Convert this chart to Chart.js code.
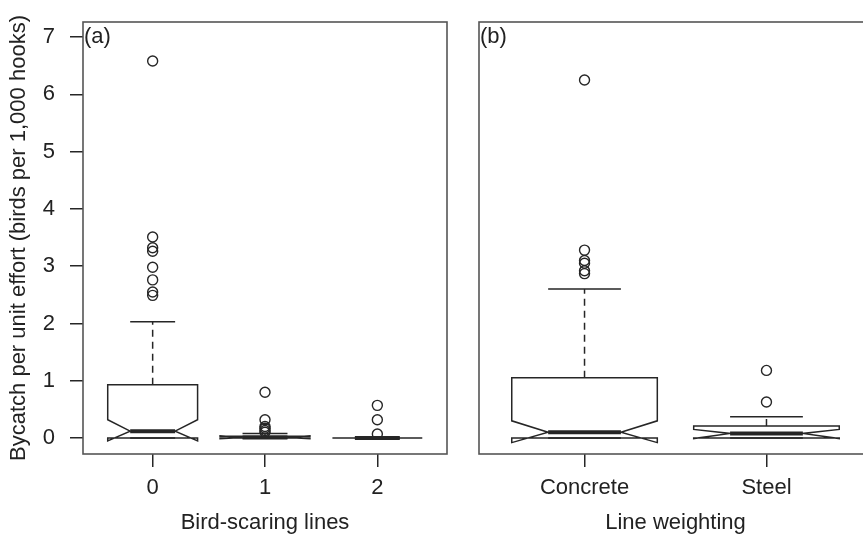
<!DOCTYPE html>
<html>
<head>
<meta charset="utf-8">
<script src="https://cdn.jsdelivr.net/npm/chart.js@4.4.1/dist/chart.umd.min.js"></script>
<style>
  html, body { margin: 0; padding: 0; background: #fff; overflow: hidden; }
  #wrap { position: relative; width: 863px; height: 536px; overflow: hidden; }
  #panelA { position: absolute; left: 0; top: 0; }
  #panelB { position: absolute; left: 460px; top: 0; }
</style>
</head>
<body>
<div id="wrap">
  <canvas id="panelA" width="460" height="536"></canvas>
  <canvas id="panelB" width="420" height="536"></canvas>
</div>
<script>
// Panel (a): bird-scaring lines
const scaringCats = ['0', '1', '2'];
const scaringQ1 = [0, 0, 0];
const scaringMedian = [0.12, 0.01, 0];
const scaringQ3 = [0.93, 0.03, 0];
const scaringNotchLo = [-0.05, -0.01, 0];
const scaringNotchHi = [0.32, 0.04, 0];
const scaringWhiskerLo = [0, 0, 0];
const scaringWhiskerHi = [2.03, 0.08, 0];
const scaringOutliers = [
    [6.58, 3.51, 3.32, 3.26, 2.98, 2.76, 2.55, 2.49],
    [0.8, 0.32, 0.2, 0.17, 0.13, 0.1],
    [0.57, 0.32, 0.07]
];

// Panel (b): line weighting
const weightCats = ['Concrete', 'Steel'];
const weightQ1 = [0, 0];
const weightMedian = [0.1, 0.08];
const weightQ3 = [1.05, 0.21];
const weightNotchLo = [-0.08, -0.01];
const weightNotchHi = [0.3, 0.15];
const weightWhiskerLo = [0, 0];
const weightWhiskerHi = [2.6, 0.37];
const weightOutliers = [
    [6.25, 3.28, 3.1, 3.05, 2.92, 2.87],
    [1.18, 0.63]
];

const yTicks = [0, 1, 2, 3, 4, 5, 6, 7];

Chart.defaults.font.family = "'Liberation Sans', Arial, sans-serif";
Chart.defaults.font.size = 22;
Chart.defaults.color = '#222';

const ink = '#262626';

// draws the frame, the notched boxes, whiskers and the panel letter
const notchBoxPlugin = {
    id: 'notchBox',
    afterDatasetsDraw(chart, args, opts) {
        const ctx = chart.ctx;
        const xs = chart.scales.x;
        const ys = chart.scales.y;
        const area = chart.chartArea;
        ctx.save();

        // frame
        ctx.strokeStyle = '#555';
        ctx.lineWidth = 1.6;
        ctx.strokeRect(area.left, area.top, area.right - area.left, area.bottom - area.top);

        ctx.strokeStyle = ink;
        ctx.lineWidth = 1.5;
        opts.median.forEach((m, i) => {
            const pos = i + 1;
            const xc = xs.getPixelForValue(pos);
            const w = xs.getPixelForValue(pos + 0.4) - xc;
            const wn = xs.getPixelForValue(pos + 0.2) - xc;
            const yq1 = ys.getPixelForValue(opts.q1[i]);
            const yq3 = ys.getPixelForValue(opts.q3[i]);
            const ym = ys.getPixelForValue(m);
            const ylo = ys.getPixelForValue(opts.notchLo[i]);
            const yhi = ys.getPixelForValue(opts.notchHi[i]);
            const ywl = ys.getPixelForValue(opts.whiskerLo[i]);
            const ywh = ys.getPixelForValue(opts.whiskerHi[i]);

            // whiskers (dashed) and staples
            ctx.setLineDash([7, 5]);
            ctx.beginPath();
            ctx.moveTo(xc, yq3); ctx.lineTo(xc, ywh);
            ctx.moveTo(xc, yq1); ctx.lineTo(xc, ywl);
            ctx.stroke();
            ctx.setLineDash([]);
            ctx.beginPath();
            ctx.moveTo(xc - wn, ywh); ctx.lineTo(xc + wn, ywh);
            ctx.moveTo(xc - wn, ywl); ctx.lineTo(xc + wn, ywl);
            ctx.stroke();

            // notched box outline
            ctx.beginPath();
            ctx.moveTo(xc - w, yq1);
            ctx.lineTo(xc - w, ylo);
            ctx.lineTo(xc - wn, ym);
            ctx.lineTo(xc - w, yhi);
            ctx.lineTo(xc - w, yq3);
            ctx.lineTo(xc + w, yq3);
            ctx.lineTo(xc + w, yhi);
            ctx.lineTo(xc + wn, ym);
            ctx.lineTo(xc + w, ylo);
            ctx.lineTo(xc + w, yq1);
            ctx.closePath();
            ctx.stroke();

            // median
            ctx.lineWidth = 4;
            ctx.beginPath();
            ctx.moveTo(xc - wn, ym); ctx.lineTo(xc + wn, ym);
            ctx.stroke();
            ctx.lineWidth = 1.5;
        });

        // panel letter
        ctx.fillStyle = '#222';
        ctx.font = "22px 'Liberation Sans', Arial, sans-serif";
        ctx.textAlign = 'left';
        ctx.textBaseline = 'middle';
        ctx.fillText(opts.letter, area.left + 1, ys.getPixelForValue(7));
        ctx.restore();
    }
};

function outlierPoints(groups) {
    const pts = [];
    groups.forEach((vals, i) => vals.forEach(v => pts.push({ x: i + 1, y: v })));
    return pts;
}

function makePanel(canvasId, cats, stats, outliers, xTitle, showY, padding) {
    const n = cats.length;
    const ext = n * 0.04;
    return new Chart(document.getElementById(canvasId), {
        type: 'scatter',
        data: {
            datasets: [{
                data: outlierPoints(outliers),
                pointStyle: 'circle',
                pointRadius: 5,
                pointHoverRadius: 5,
                backgroundColor: 'rgba(0,0,0,0)',
                borderColor: ink,
                borderWidth: 1.4
            }]
        },
        plugins: [notchBoxPlugin],
        options: {
            responsive: false,
            animation: false,
            devicePixelRatio: 1,
            layout: { padding: padding },
            plugins: {
                legend: { display: false },
                tooltip: { enabled: false },
                notchBox: stats
            },
            scales: {
                x: {
                    type: 'linear',
                    min: 0.5 - ext,
                    max: n + 0.5 + ext,
                    afterBuildTicks: (scale) => {
                        scale.ticks = cats.map((c, i) => ({ value: i + 1 }));
                    },
                    afterFit: (scale) => { scale.height = 82; },
                    ticks: {
                        callback: (value) => cats[value - 1],
                        padding: 8,
                        color: '#222',
                        maxRotation: 0,
                        autoSkip: false
                    },
                    grid: {
                        drawOnChartArea: false,
                        drawTicks: true,
                        tickLength: 13,
                        tickColor: ink,
                        lineWidth: 1.5
                    },
                    border: { display: false },
                    title: {
                        display: true,
                        text: xTitle,
                        color: '#222',
                        padding: { top: 0, bottom: 0 }
                    }
                },
                y: {
                    type: 'linear',
                    display: showY,
                    min: -0.279,
                    max: 7.262,
                    afterBuildTicks: (scale) => {
                        scale.ticks = yTicks.map(v => ({ value: v }));
                    },
                    afterFit: (scale) => { scale.width = showY ? 83 : 0; },
                    ticks: {
                        padding: 15,
                        color: '#222',
                        font: { size: 22, lineHeight: 0.6 }
                    },
                    grid: {
                        drawOnChartArea: false,
                        drawTicks: true,
                        tickLength: 13,
                        tickColor: ink,
                        lineWidth: 1.5
                    },
                    border: { display: false },
                    title: {
                        display: true,
                        text: 'Bycatch per unit effort (birds per 1,000 hooks)',
                        color: '#222',
                        padding: { top: 6, bottom: 0 }
                    }
                }
            }
        }
    });
}

makePanel('panelA', scaringCats, {
    letter: '(a)',
    q1: scaringQ1, median: scaringMedian, q3: scaringQ3,
    notchLo: scaringNotchLo, notchHi: scaringNotchHi,
    whiskerLo: scaringWhiskerLo, whiskerHi: scaringWhiskerHi
}, scaringOutliers, 'Bird-scaring lines', true, { top: 22, right: 13, left: 0, bottom: 0 });

makePanel('panelB', weightCats, {
    letter: '(b)',
    q1: weightQ1, median: weightMedian, q3: weightQ3,
    notchLo: weightNotchLo, notchHi: weightNotchHi,
    whiskerLo: weightWhiskerLo, whiskerHi: weightWhiskerHi
}, weightOutliers, 'Line weighting', false, { top: 22, right: 8, left: 19, bottom: 0 });
</script>
</body>
</html>
